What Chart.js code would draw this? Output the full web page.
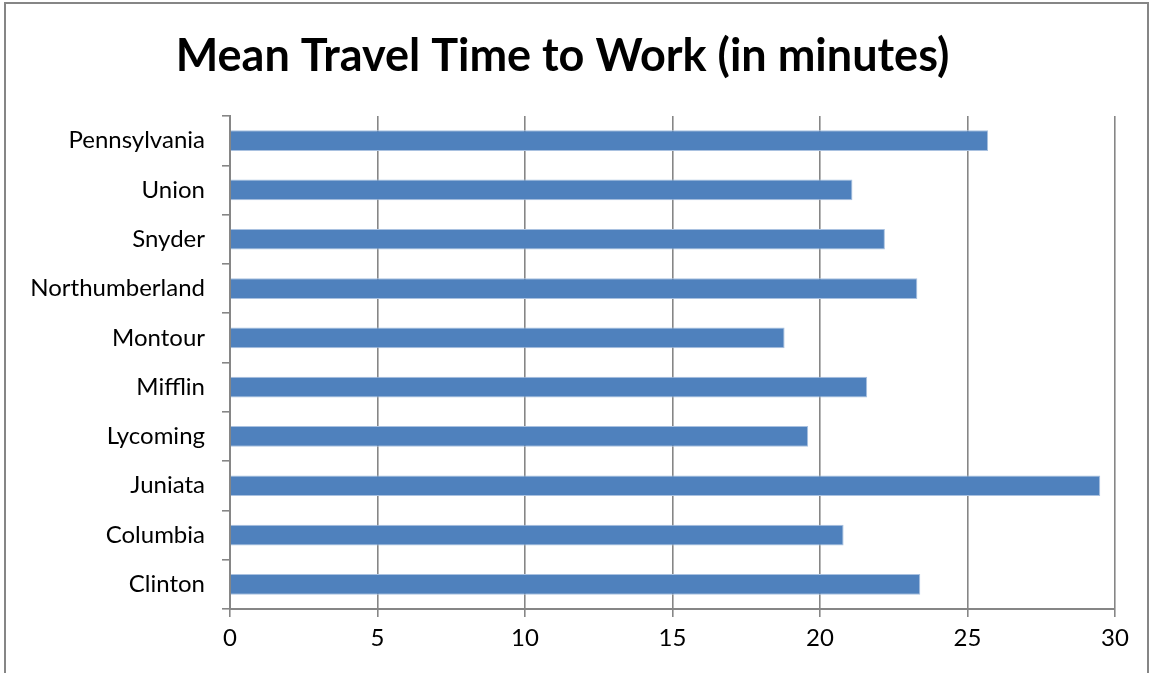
<!DOCTYPE html>
<html>
<head>
<meta charset="utf-8">
<script src="https://cdn.jsdelivr.net/npm/chart.js@4"></script>
<style>
  html, body { margin: 0; padding: 0; background: #fff; overflow: hidden; }
  canvas { display: block; }
</style>
</head>
<body>
<canvas id="chart" width="1151" height="673"></canvas>
<script>
const counties = ['Pennsylvania', 'Union', 'Snyder', 'Northumberland', 'Montour',
                  'Mifflin', 'Lycoming', 'Juniata', 'Columbia', 'Clinton']
const travelMinutes = [25.7, 21.1, 22.2, 23.3, 18.8, 21.6, 19.6, 29.5, 20.8, 23.4]
const xTicks = [0, 5, 10, 15, 20, 25, 30]

const gray = '#868686'
const font = 'Lato, "Open Sans", sans-serif'

// frame round the whole chart
const frame = {
  id: 'frame',
  beforeDraw(chart) {
    const ctx = chart.ctx
    ctx.save()
    ctx.strokeStyle = gray
    ctx.lineWidth = 2
    ctx.strokeRect(5, 3, 1143, 720)
    ctx.restore()
  }
}

new Chart(document.getElementById('chart'), {
  type: 'bar',
  data: {
    labels: counties,
    datasets: [{
      data: travelMinutes,
      backgroundColor: '#4F81BD',
      borderColor: '#a9c1e0',
      borderWidth: 1,
      categoryPercentage: 1,
      barPercentage: 0.42
    }]
  },
  plugins: [frame],
  options: {
    indexAxis: 'y',
    responsive: false,
    animation: false,
    devicePixelRatio: 1,
    layout: { padding: { left: 10, right: 36, top: 0, bottom: 0 } },
    plugins: {
      legend: { display: false },
      tooltip: { enabled: false },
      title: {
        display: true,
        text: 'Mean Travel Time to Work (in minutes)',
        color: '#000',
        font: { family: font, size: 45, weight: 'bold' },
        padding: { top: 29, bottom: 33 }
      }
    },
    scales: {
      x: {
        min: 0,
        max: 30,
        afterBuildTicks(scale) { scale.ticks = xTicks.map(v => ({ value: v })) },
        afterFit(scale) { scale.height = 64 },
        grid: { color: gray, lineWidth: 1.6, tickLength: 8 },
        border: { color: gray, width: 2 },
        ticks: { color: '#000', padding: 7, font: { family: font, size: 24 } }
      },
      y: {
        afterFit(scale) { scale.width = 220 },
        grid: { drawOnChartArea: false, color: gray, lineWidth: 1.6, tickLength: 8 },
        border: { color: gray, width: 2 },
        ticks: { color: '#000', padding: 17, font: { family: font, size: 24 } }
      }
    }
  }
})
</script>
</body>
</html>
